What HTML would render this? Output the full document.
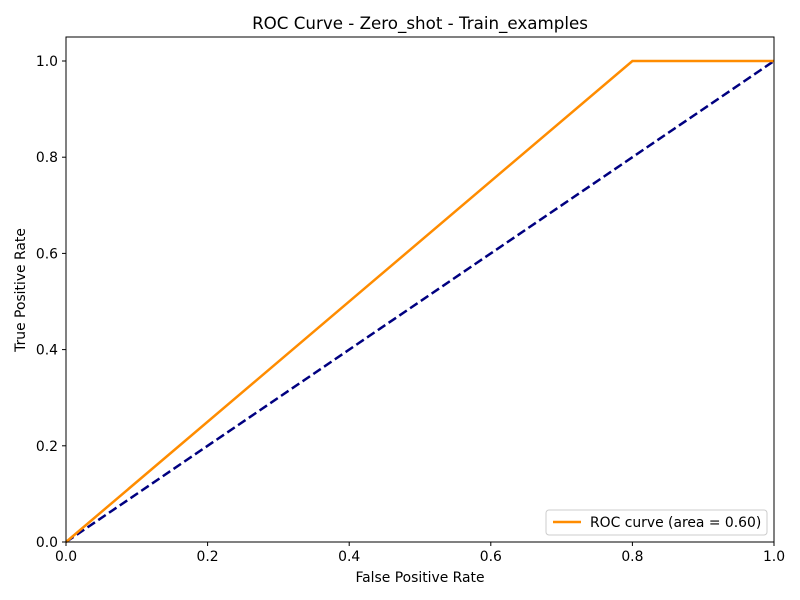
<!DOCTYPE html>
<html><head><meta charset="utf-8"><style>
body{margin:0;background:#fff;}
svg{display:block;font-family:"DejaVu Sans","Liberation Sans",sans-serif;}
</style></head><body>
<svg id="chart" width="800" height="600" viewBox="0 0 800 600">
<rect width="800" height="600" fill="#fff"/>
<text x="420" y="29" font-size="16.7" text-anchor="middle">ROC Curve - Zero_shot - Train_examples</text>
<g id="marks"></g>
<rect x="66" y="37" width="708" height="505" fill="none" stroke="#000" stroke-width="1"/>
<g id="xticks"></g><g id="yticks"></g>
<text x="420" y="582" font-size="13.9" text-anchor="middle">False Positive Rate</text>
<text x="25" y="290" font-size="13.9" text-anchor="middle" transform="rotate(-90 25 290)">True Positive Rate</text>
<g>
<rect x="546" y="510" width="221" height="25" rx="3" fill="#fff" stroke="#ccc"/>
<line x1="553" y1="522" x2="581" y2="522" stroke="darkorange" stroke-width="2.5"/>
<text x="590" y="527" font-size="13.9">ROC curve (area = 0.60)</text>
</g>
</svg>
<script>
const fpr=[0,0.8,1];
const tpr=[0,1,1];
const diagX=[0,1];
const diagY=[0,1];
const xTicks=[0,0.2,0.4,0.6,0.8,1.0];
const yTicks=[0,0.2,0.4,0.6,0.8,1.0];
const X=v=>66+v*708, Y=v=>542-v*481;
const NS="http://www.w3.org/2000/svg";
const marks=document.getElementById('marks');
function poly(xs,ys,color,dash,name){
 const p=document.createElementNS(NS,'polyline');
 p.setAttribute('points',xs.map((x,i)=>X(x)+','+Y(ys[i])).join(' '));
 p.setAttribute('fill','none');p.setAttribute('stroke',color);p.setAttribute('stroke-width','2.5');
 if(dash)p.setAttribute('stroke-dasharray',dash);
 
 
 marks.appendChild(p);
}
poly(diagX,diagY,'navy','9,4','chance-diagonal');
poly(fpr,tpr,'darkorange',null,'roc-curve');
const xg=document.getElementById('xticks');
xTicks.forEach(t=>{
 const l=document.createElementNS(NS,'line');
 l.setAttribute('x1',X(t));l.setAttribute('x2',X(t));l.setAttribute('y1',542);l.setAttribute('y2',546);l.setAttribute('stroke','#000');
 
 
 xg.appendChild(l);
 const s=document.createElementNS(NS,'text');
 s.setAttribute('x',X(t));s.setAttribute('y',561);s.setAttribute('font-size','13.9');s.setAttribute('text-anchor','middle');
 s.textContent=t.toFixed(1);
 
 
 xg.appendChild(s);
});
const yg=document.getElementById('yticks');
yTicks.forEach(t=>{
 const l=document.createElementNS(NS,'line');
 l.setAttribute('x1',62);l.setAttribute('x2',66);l.setAttribute('y1',Y(t));l.setAttribute('y2',Y(t));l.setAttribute('stroke','#000');
 
 
 yg.appendChild(l);
 const s=document.createElementNS(NS,'text');
 s.setAttribute('x',58);s.setAttribute('y',Y(t)+5);s.setAttribute('font-size','13.9');s.setAttribute('text-anchor','end');
 s.textContent=t.toFixed(1);
 
 
 yg.appendChild(s);
});
</script>
</body></html>
